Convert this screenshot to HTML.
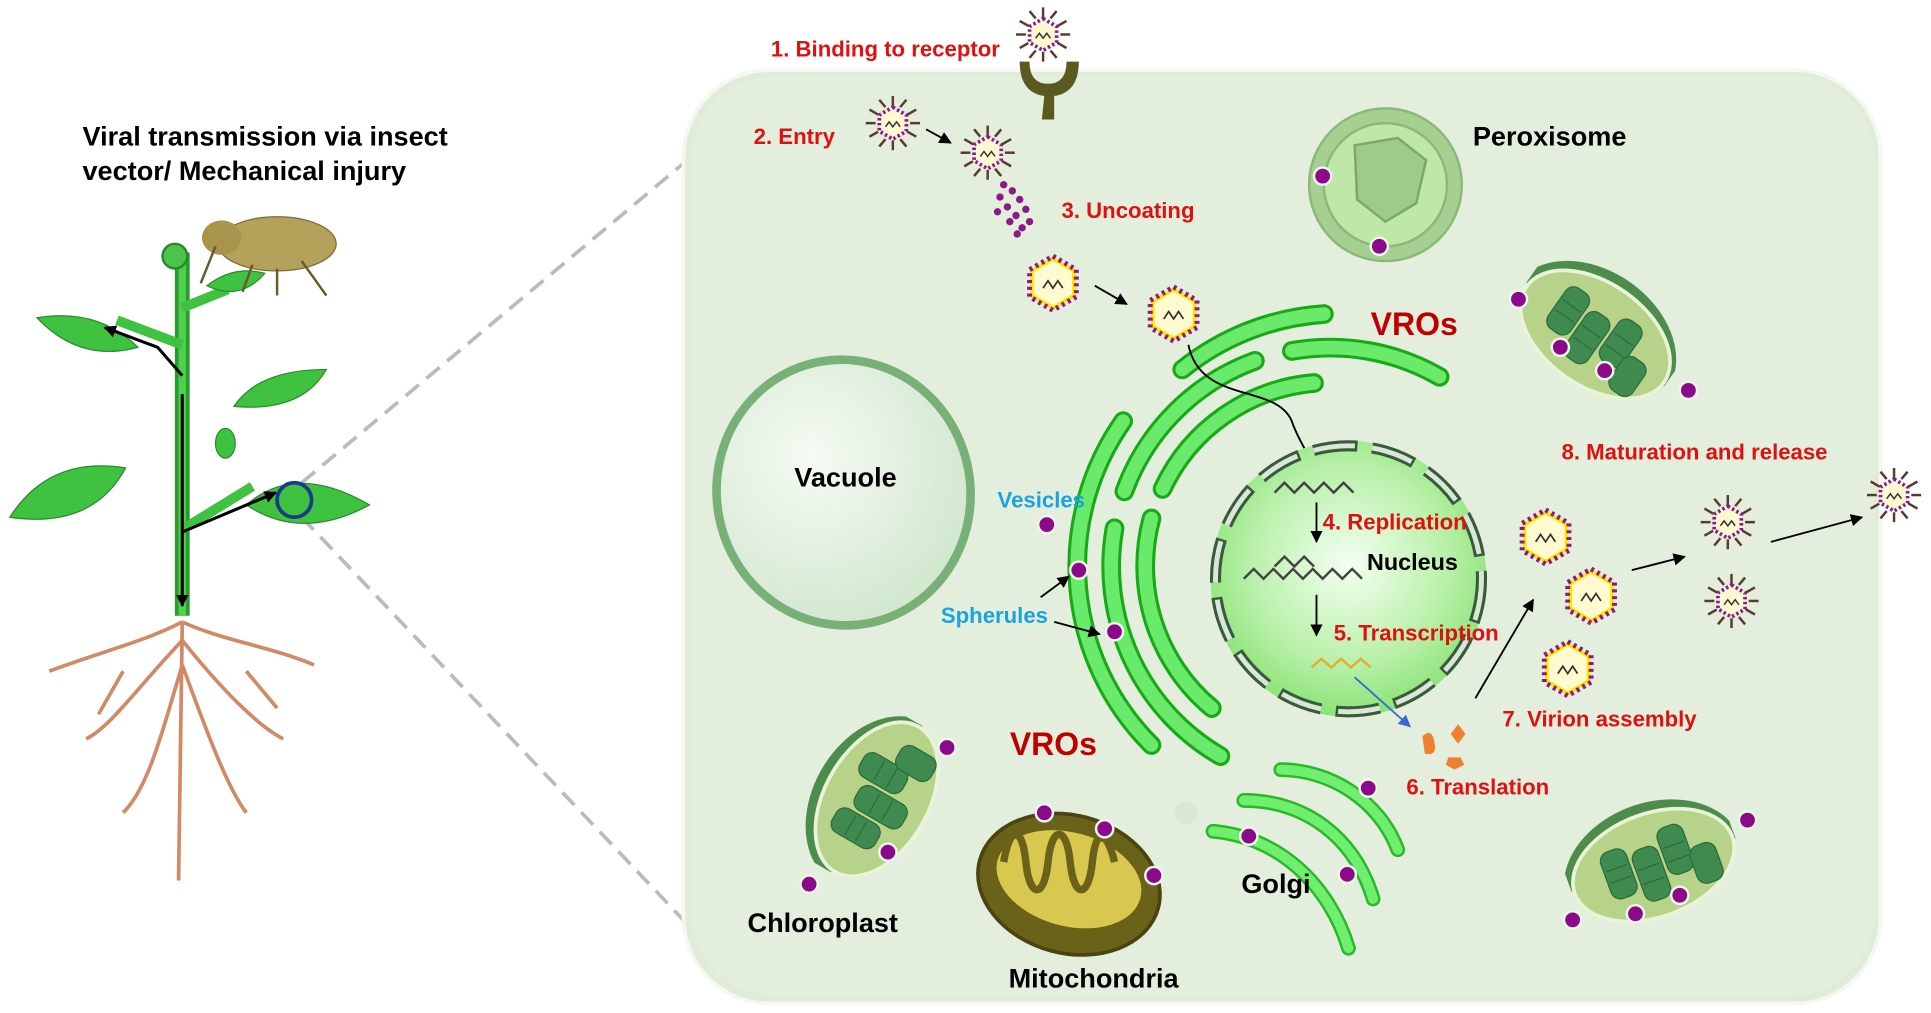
<!DOCTYPE html>
<html><head><meta charset="utf-8"><style>
html,body{margin:0;padding:0;background:#fff;width:1931px;height:1013px;overflow:hidden}
svg{display:block}
text{font-family:"Liberation Sans",Arial,sans-serif;font-weight:bold}
.r{fill:#e01010;font-size:18px}
.k{fill:#000;font-size:22px}
.b{fill:#1aa3e0;font-size:18px}
</style></head><body>
<svg width="1931" height="1013" viewBox="0 0 1568 822.6" preserveAspectRatio="none">
<defs>
<radialGradient id="nuc" cx="0.5" cy="0.45" r="0.6"><stop offset="0" stop-color="#f4fff2"/><stop offset="0.6" stop-color="#b8f0a8"/><stop offset="1" stop-color="#7fe06a"/></radialGradient>
<radialGradient id="vac" cx="0.4" cy="0.35" r="0.7"><stop offset="0" stop-color="#f6fbf4"/><stop offset="1" stop-color="#cfe6cc"/></radialGradient>
<marker id="ar" markerUnits="userSpaceOnUse" markerWidth="10" markerHeight="10" refX="9" refY="5" orient="auto"><path d="M0,0 L10,5 L0,10z" fill="#000"/></marker>
<marker id="ab" markerUnits="userSpaceOnUse" markerWidth="10" markerHeight="10" refX="9" refY="5" orient="auto"><path d="M0,0 L10,5 L0,10z" fill="#3a6ad0"/></marker>
<g id="vir">
<g stroke="#5a3a2a" stroke-width="2">
<line x1="0" y1="-22" x2="0" y2="-14"/><line x1="0" y1="22" x2="0" y2="14"/>
<line x1="-19" y1="-11" x2="-12" y2="-7"/><line x1="19" y1="11" x2="12" y2="7"/>
<line x1="19" y1="-11" x2="12" y2="-7"/><line x1="-19" y1="11" x2="-12" y2="7"/>
<line x1="-11" y1="-19" x2="-6" y2="-13"/><line x1="11" y1="19" x2="6" y2="13"/>
<line x1="11" y1="-19" x2="6" y2="-13"/><line x1="-11" y1="19" x2="-6" y2="13"/>
<line x1="-22" y1="0" x2="-14" y2="0"/><line x1="22" y1="0" x2="14" y2="0"/>
</g>
<polygon points="0,-13 11,-6.5 11,6.5 0,13 -11,6.5 -11,-6.5" fill="#fff8d0" stroke="#8a1a8a" stroke-width="3" stroke-dasharray="2 2"/>
<path d="M-6,3 l3,-4 l3,4 l3,-4 l3,4" fill="none" stroke="#333" stroke-width="1.2"/>
</g>
<g id="cap">
<polygon points="0,-20 17,-10 17,10 0,20 -17,10 -17,-10" fill="#fffad0" stroke="#ffe600" stroke-width="3"/>
<polygon points="0,-22 19,-11 19,11 0,22 -19,11 -19,-11" fill="none" stroke="#8a1a8a" stroke-width="4" stroke-dasharray="2.5 3"/>
<path d="M-8,4 l4,-6 l4,6 l4,-6 l4,6" fill="none" stroke="#333" stroke-width="1.4"/>
</g>
<g id="dot"><circle r="8" fill="#eef6ea"/><circle r="6" fill="#8a0a8a"/></g>
<g id="chl">
<path d="M-70,-10 A75,55 0 0 1 70,-5 L70,10 A75,50 0 0 1 -70,5z" fill="#4e8c4e"/>
<ellipse cx="0" cy="8" rx="68" ry="42" fill="#b7d38a" stroke="#e8f4d8" stroke-width="3"/>
<g fill="#3f8a4e" stroke="#2c6b3a" stroke-width="1">
<rect x="-40" y="-15" width="22" height="40" rx="8"/><rect x="-15" y="-8" width="22" height="44" rx="8"/><rect x="10" y="-18" width="22" height="40" rx="8"/><rect x="30" y="5" width="22" height="32" rx="8"/>
</g>
<g stroke="#2c6b3a" stroke-width="1"><line x1="-38" y1="0" x2="-20" y2="0"/><line x1="-38" y1="10" x2="-20" y2="10"/><line x1="-13" y1="8" x2="5" y2="8"/><line x1="-13" y1="20" x2="5" y2="20"/><line x1="12" y1="-2" x2="30" y2="-2"/><line x1="12" y1="10" x2="30" y2="10"/></g>
</g>
</defs>

<line x1="245" y1="392" x2="600" y2="95" stroke="#bbb" stroke-width="3" stroke-dasharray="14 8"/>
<line x1="245" y1="420" x2="605" y2="800" stroke="#bbb" stroke-width="3" stroke-dasharray="14 8"/>

<rect x="555" y="57" width="972" height="758" rx="70" fill="#e0ecd8" stroke="#f5f8f2" stroke-width="3"/>
<rect x="562" y="62" width="960" height="746" rx="66" fill="#e3eedc"/>

<!-- plant -->
<g>
<g stroke="#d08a66" stroke-width="3" fill="none">
<path d="M148,505 C120,520 80,530 40,545"/><path d="M148,505 C180,520 220,525 255,540"/>
<path d="M148,520 C110,560 90,590 70,600"/><path d="M148,520 C180,560 210,590 230,600"/>
<path d="M148,540 C130,600 120,640 100,660"/><path d="M148,540 C170,600 185,640 200,660"/>
<path d="M148,505 L145,715"/><path d="M100,545 L80,580"/><path d="M200,545 L225,575"/>
</g>
<path d="M148,500 L148,205" stroke="#2a9a2a" stroke-width="12"/>
<path d="M148,500 L148,205" stroke="#4dd04d" stroke-width="6"/>
<path d="M148,280 L95,260 M148,430 L205,395 M148,250 L185,235" stroke="#3fc23f" stroke-width="8"/>
<circle cx="142" cy="208" r="10" fill="#4cc44c" stroke="#2a8a2a" stroke-width="2"/>
<path d="M30,258 Q80,250 112,282 Q65,295 30,258z" fill="#3fc23f" stroke="#2a8a2a"/>
<path d="M190,330 Q210,300 265,300 Q245,335 190,330z" fill="#3fc23f" stroke="#2a8a2a"/>
<path d="M8,420 Q40,370 102,380 Q75,430 8,420z" fill="#3fc23f" stroke="#2a8a2a"/>
<path d="M200,410 Q240,375 300,410 Q245,440 200,410z" fill="#3fc23f" stroke="#2a8a2a"/>
<path d="M168,232 Q190,215 215,222 Q195,245 168,232z" fill="#3fc23f" stroke="#2a8a2a"/>
<ellipse cx="183" cy="360" rx="8" ry="12" fill="#3fc23f" stroke="#2a8a2a"/>
<line x1="148" y1="320" x2="148" y2="492" stroke="#000" stroke-width="2.5" marker-end="url(#ar)"/>
<path d="M148,305 L128,282 L85,266" stroke="#000" stroke-width="2.5" fill="none" marker-end="url(#ar)"/>
<line x1="148" y1="432" x2="224" y2="400" stroke="#000" stroke-width="2.5" marker-end="url(#ar)"/>
<circle cx="239" cy="406" r="14" fill="none" stroke="#1a3a8a" stroke-width="3"/>
<ellipse cx="225" cy="198" rx="48" ry="22" fill="#b5a25a" stroke="#7a6a3a"/>
<ellipse cx="180" cy="193" rx="16" ry="14" fill="#a8944a"/>
<path d="M205,215 l-8,22 M225,218 l0,22 M245,212 l20,28 M175,200 l-12,30" stroke="#6a5a2a" stroke-width="2"/>
</g>
<text x="67" y="118" class="k">Viral transmission via insect</text>
<text x="67" y="146" class="k">vector/ Mechanical injury</text>

<!-- receptor -->
<path d="M828,50 q0,25 20,28 L846,97 L856,97 L856,78 q20,-3 20,-28 L866,50 q0,18 -15,18 q-15,0 -15,-18z" fill="#5a5a20"/>
<use href="#vir" x="847" y="28"/>
<text x="626" y="46" class="r">1. Binding to receptor</text>

<text x="612" y="117" class="r">2. Entry</text>
<use href="#vir" x="725" y="100"/>
<line x1="752" y1="105" x2="772" y2="116" stroke="#000" stroke-width="1.5" marker-end="url(#ar)"/>
<use href="#vir" x="802" y="124"/>
<g fill="#8a1a8a">
<circle cx="815" cy="150" r="3"/><circle cx="822" cy="155" r="3"/><circle cx="812" cy="160" r="3"/><circle cx="828" cy="162" r="3"/><circle cx="818" cy="168" r="3"/><circle cx="825" cy="175" r="3"/><circle cx="833" cy="170" r="3"/><circle cx="820" cy="180" r="3"/><circle cx="830" cy="185" r="3"/><circle cx="836" cy="180" r="3"/><circle cx="826" cy="190" r="3"/><circle cx="810" cy="172" r="3"/>
</g>
<text x="862" y="177" class="r">3. Uncoating</text>
<use href="#cap" x="855" y="230"/>
<line x1="889" y1="232" x2="915" y2="247" stroke="#000" stroke-width="1.5" marker-end="url(#ar)"/>
<use href="#cap" x="953" y="255"/>

<!-- peroxisome -->
<circle cx="1125" cy="150" r="62" fill="#a6cf92" stroke="#8cb87a" stroke-width="2"/>
<circle cx="1125" cy="150" r="50" fill="#bfe7a8" stroke="#8cb87a" stroke-width="2"/>
<path d="M1100,118 L1135,112 L1158,130 L1150,165 L1125,180 L1102,162z" fill="#9ccc88" stroke="#7aa868" stroke-width="2"/>
<use href="#dot" x="1074" y="143"/><use href="#dot" x="1120" y="200"/>
<text x="1196" y="118" class="k">Peroxisome</text>

<text x="1113" y="272" fill="#c00000" style="font-size:26px">VROs</text>
<use href="#chl" transform="translate(1300,265) rotate(35)"/>
<use href="#dot" x="1233" y="243"/><use href="#dot" x="1267" y="282"/><use href="#dot" x="1303" y="301"/><use href="#dot" x="1371" y="317"/>

<!-- vacuole -->
<ellipse cx="685" cy="400" rx="103" ry="108" fill="url(#vac)" stroke="#78b078" stroke-width="7" transform="rotate(-10 685 400)"/>
<text x="645" y="395" class="k">Vacuole</text>

<!-- ER -->
<g fill="none" stroke-linecap="round">
<g stroke="#18a818" stroke-width="16">
<path d="M984,575 A150 150 0 0 1 935,421"/><path d="M944,397 A150 150 0 0 1 1067,311"/>
<path d="M991,614 A178 178 0 0 1 905,429"/><path d="M913,399 A178 178 0 0 1 1019,293"/><path d="M1049,285 A178 178 0 0 1 1169,306"/>
<path d="M935,605 A205 205 0 0 1 912,342"/><path d="M960,300 A205 205 0 0 1 1075,255"/>
</g>
<g stroke="#6aea6a" stroke-width="11">
<path d="M984,575 A150 150 0 0 1 935,421"/><path d="M944,397 A150 150 0 0 1 1067,311"/>
<path d="M991,614 A178 178 0 0 1 905,429"/><path d="M913,399 A178 178 0 0 1 1019,293"/><path d="M1049,285 A178 178 0 0 1 1169,306"/>
<path d="M935,605 A205 205 0 0 1 912,342"/><path d="M960,300 A205 205 0 0 1 1075,255"/>
</g>
</g>
<path d="M965,280 C975,330 1040,310 1050,345 C1058,365 1065,370 1068,388" stroke="#000" stroke-width="1.5" fill="none" marker-end="url(#ar)"/>

<!-- nucleus -->
<circle cx="1095" cy="470" r="112" fill="url(#nuc)"/>
<circle cx="1095" cy="470" r="108" fill="none" stroke="#3a5a3a" stroke-width="9" stroke-dasharray="36 12"/>
<circle cx="1095" cy="470" r="108" fill="none" stroke="#d8e8d8" stroke-width="4" stroke-dasharray="34 14"/>
<path d="M1035,400 l8,-8 l8,8 l8,-8 l8,8 l8,-8 l8,8 l8,-8 l8,8" fill="none" stroke="#444" stroke-width="2"/>
<path d="M1010,470 l8,-8 l8,8 l8,-8 l8,8 l8,-8 l8,8 l8,-8 l8,8 l8,-8 l8,8 l8,-8 l8,8" fill="none" stroke="#444" stroke-width="2"/>
<path d="M1035,460 l8,-8 l8,8 l8,-8 l8,8" fill="none" stroke="#444" stroke-width="2"/>
<path d="M1065,542 l8,-7 l8,7 l8,-7 l8,7 l8,-7 l8,7" fill="none" stroke="#e0b030" stroke-width="2"/>
<line x1="1069" y1="408" x2="1069" y2="440" stroke="#000" stroke-width="1.5" marker-end="url(#ar)"/>
<line x1="1069" y1="483" x2="1069" y2="516" stroke="#000" stroke-width="1.5" marker-end="url(#ar)"/>
<line x1="1100" y1="550" x2="1145" y2="590" stroke="#3a6ad0" stroke-width="1.5" marker-end="url(#ab)"/>
<text x="1074" y="430" class="r">4. Replication</text>
<text x="1110" y="463" class="k" style="font-size:19px">Nucleus</text>
<text x="1083" y="520" class="r">5. Transcription</text>

<text x="810" y="412" class="b">Vesicles</text>
<use href="#dot" x="850" y="426"/>
<text x="764" y="506" class="b">Spherules</text>
<line x1="845" y1="485" x2="868" y2="468" stroke="#000" stroke-width="1.5" marker-end="url(#ar)"/>
<line x1="856" y1="505" x2="893" y2="515" stroke="#000" stroke-width="1.5" marker-end="url(#ar)"/>
<use href="#dot" x="876" y="463"/><use href="#dot" x="905" y="513"/>

<path d="M1155,598 q8,-8 10,6 q2,10 -8,8z" fill="#f08030"/>
<path d="M1184,588 l6,8 l-6,8 l-6,-8z" fill="#f08030"/>
<path d="M1176,615 l10,0 l3,6 l-8,4 l-7,-4z" fill="#f08030"/>
<text x="1142" y="645" class="r">6. Translation</text>
<line x1="1198" y1="567" x2="1245" y2="487" stroke="#000" stroke-width="1.5" marker-end="url(#ar)"/>
<use href="#cap" x="1255" y="436"/><use href="#cap" x="1292" y="484"/><use href="#cap" x="1273" y="543"/>
<text x="1220" y="590" class="r">7. Virion assembly</text>
<line x1="1325" y1="463" x2="1368" y2="452" stroke="#000" stroke-width="1.5" marker-end="url(#ar)"/>
<use href="#vir" x="1403" y="424"/><use href="#vir" x="1406" y="488"/>
<text x="1268" y="373" class="r">8. Maturation and release</text>
<line x1="1438" y1="440" x2="1512" y2="420" stroke="#000" stroke-width="1.5" marker-end="url(#ar)"/>
<use href="#vir" x="1538" y="402"/>

<text x="820" y="613" fill="#c00000" style="font-size:26px">VROs</text>
<use href="#chl" transform="translate(705,645) rotate(-60)"/>
<use href="#dot" x="769" y="607"/><use href="#dot" x="721" y="692"/><use href="#dot" x="657" y="718"/>
<text x="607" y="757" class="k">Chloroplast</text>

<ellipse cx="868" cy="718" rx="75" ry="56" fill="#6a6218" stroke="#4a4410" stroke-width="3" transform="rotate(15 868 718)"/>
<ellipse cx="868" cy="714" rx="60" ry="38" fill="#d8c850" transform="rotate(15 868 714)"/>
<path d="M815,700 c5,-30 15,-30 18,0 s15,30 18,0 s15,-30 18,0 s15,30 18,0 s12,-25 18,0" fill="none" stroke="#6a6218" stroke-width="6"/>
<use href="#dot" x="848" y="660"/><use href="#dot" x="897" y="673"/><use href="#dot" x="937" y="711"/>
<text x="819" y="802" class="k">Mitochondria</text>

<circle cx="963" cy="660" r="9" fill="#d8e8d4"/>
<g fill="none" stroke="#28b828" stroke-width="12" stroke-linecap="round">
<path d="M1040,625 C1080,625 1120,650 1135,690"/>
<path d="M1010,650 C1060,650 1100,680 1115,730"/>
<path d="M985,675 C1040,680 1080,720 1095,770"/>
</g>
<g fill="none" stroke="#70ee70" stroke-width="8" stroke-linecap="round">
<path d="M1040,625 C1080,625 1120,650 1135,690"/>
<path d="M1010,650 C1060,650 1100,680 1115,730"/>
<path d="M985,675 C1040,680 1080,720 1095,770"/>
</g>
<use href="#dot" x="1111" y="640"/><use href="#dot" x="1014" y="679"/><use href="#dot" x="1094" y="710"/>
<text x="1008" y="725" class="k">Golgi</text>

<use href="#chl" transform="translate(1340,695) rotate(-20)"/>
<use href="#dot" x="1419" y="666"/><use href="#dot" x="1277" y="747"/><use href="#dot" x="1328" y="742"/><use href="#dot" x="1364" y="727"/>
</svg>
</body></html>
